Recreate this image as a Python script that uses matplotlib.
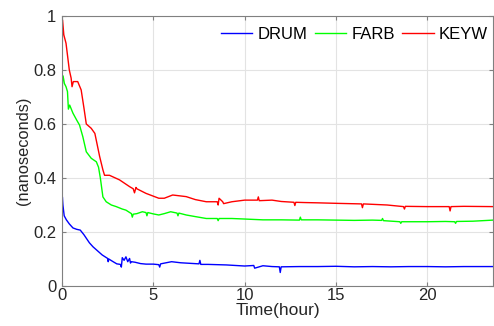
import matplotlib
matplotlib.use("Agg")
import matplotlib.pyplot as plt

plt.rcParams['font.family'] = ['Liberation Sans', 'DejaVu Sans']

drum_t = [0.0, 0.02, 0.05, 0.12, 0.24, 0.4, 0.6, 0.8, 1.0, 1.2, 1.35, 1.5, 1.7, 2.0, 2.2, 2.5, 2.53, 2.56, 2.8, 3.0, 3.2, 3.25, 3.3, 3.4, 3.5, 3.6, 3.7, 3.75, 3.8, 4.0, 4.3, 4.6, 5.0, 5.3, 5.35, 5.4, 6.0, 6.5, 7.0, 7.5, 7.55, 7.6, 8.0, 9.0, 10.0, 10.5, 10.55, 11.0, 11.5, 11.9, 11.95, 12.0, 13.0, 14.0, 15.0, 16.0, 17.0, 18.0, 19.0, 20.0, 21.0, 22.0, 23.0, 23.6]
drum_v = [0.22, 0.33, 0.30, 0.26, 0.245, 0.23, 0.215, 0.21, 0.207, 0.19, 0.175, 0.16, 0.145, 0.127, 0.115, 0.102, 0.09, 0.10, 0.09, 0.082, 0.08, 0.07, 0.105, 0.095, 0.108, 0.09, 0.102, 0.085, 0.09, 0.088, 0.083, 0.081, 0.081, 0.079, 0.07, 0.082, 0.09, 0.086, 0.084, 0.082, 0.095, 0.08, 0.08, 0.078, 0.074, 0.076, 0.066, 0.075, 0.072, 0.071, 0.05, 0.071, 0.072, 0.072, 0.073, 0.071, 0.072, 0.071, 0.072, 0.072, 0.071, 0.072, 0.072, 0.072]

farb_t = [0.0, 0.03, 0.08, 0.13, 0.22, 0.3, 0.35, 0.42, 0.6, 0.8, 0.96, 1.14, 1.33, 1.6, 1.88, 2.0, 2.1, 2.24, 2.42, 2.7, 2.97, 3.3, 3.5, 3.8, 3.85, 3.9, 4.1, 4.4, 4.6, 4.65, 4.7, 5.0, 5.3, 5.6, 5.95, 6.3, 6.35, 6.4, 6.8, 7.3, 7.9, 8.5, 8.55, 8.6, 9.3, 10.0, 11.0, 12.0, 13.0, 13.05, 13.1, 14.0, 15.0, 16.0, 17.0, 17.5, 17.55, 17.6, 18.5, 18.55, 18.6, 19.0, 20.0, 21.0, 21.5, 21.55, 21.6, 22.5, 23.6]
farb_v = [0.62, 0.78, 0.77, 0.75, 0.738, 0.72, 0.655, 0.67, 0.64, 0.615, 0.596, 0.553, 0.497, 0.473, 0.46, 0.44, 0.40, 0.33, 0.312, 0.30, 0.294, 0.285, 0.281, 0.268, 0.255, 0.266, 0.268, 0.275, 0.272, 0.26, 0.272, 0.267, 0.263, 0.268, 0.275, 0.27, 0.26, 0.27, 0.263, 0.257, 0.25, 0.25, 0.242, 0.25, 0.25, 0.248, 0.245, 0.245, 0.244, 0.255, 0.245, 0.245, 0.244, 0.243, 0.244, 0.243, 0.25, 0.242, 0.238, 0.232, 0.238, 0.238, 0.238, 0.239, 0.238, 0.232, 0.239, 0.24, 0.244]

keyw_t = [0.0, 0.03, 0.1, 0.22, 0.4, 0.5, 0.55, 0.62, 0.86, 1.05, 1.2, 1.33, 1.6, 1.8, 2.06, 2.24, 2.33, 2.6, 3.15, 3.7, 3.9, 3.97, 4.05, 4.1, 4.6, 5.3, 5.6, 6.06, 6.8, 7.3, 7.9, 8.5, 8.55, 8.6, 8.8, 8.85, 9.3, 10.0, 10.7, 10.75, 10.8, 11.5, 12.0, 12.7, 12.75, 12.8, 13.3, 14.0, 15.1, 16.4, 16.45, 16.5, 17.8, 18.7, 18.75, 18.8, 20.0, 21.2, 21.25, 21.3, 22.0, 23.6]
keyw_v = [0.78, 0.985, 0.93, 0.899, 0.80, 0.77, 0.738, 0.757, 0.757, 0.726, 0.66, 0.60, 0.584, 0.565, 0.48, 0.43, 0.41, 0.41, 0.393, 0.368, 0.36, 0.345, 0.365, 0.36, 0.343, 0.325, 0.325, 0.337, 0.331, 0.32, 0.312, 0.312, 0.30, 0.325, 0.312, 0.305, 0.312, 0.318, 0.318, 0.33, 0.316, 0.318, 0.313, 0.31, 0.298, 0.31, 0.309, 0.308, 0.306, 0.304, 0.29, 0.304, 0.3, 0.294, 0.285, 0.295, 0.294, 0.294, 0.278, 0.294, 0.295, 0.294]

fig = plt.figure(figsize=(4.94, 3.26), dpi=100)
ax = fig.add_axes([0.1255, 0.1227, 0.8725, 0.8283])
ax.plot(drum_t, drum_v, color='#0000ff', lw=1.0, label='DRUM')
ax.plot(farb_t, farb_v, color='#00ff00', lw=1.0, label='FARB')
ax.plot(keyw_t, keyw_v, color='#ff0000', lw=1.0, label='KEYW')

ax.set_xlim(0, 23.6)
ax.set_ylim(0, 1)
ax.set_xticks([0, 5, 10, 15, 20])
ax.set_yticks([0, 0.2, 0.4, 0.6, 0.8, 1])
ax.set_yticklabels(['0', '0.2', '0.4', '0.6', '0.8', '1'])
ax.grid(True, color='#e3e3e3', lw=0.8)
ax.set_axisbelow(True)
for s in ax.spines.values():
    s.set_color('#808080')
    s.set_linewidth(0.8)
ax.tick_params(direction='in', length=3, colors='#808080', labelcolor='#262626', labelsize=12, top=True, right=True)
ax.tick_params(axis='x', pad=1.5)
ax.tick_params(axis='y', pad=4)
ax.set_xlabel('Time(hour)', fontsize=12.5, color='#262626', labelpad=0)
ax.set_ylabel('(nanoseconds)', fontsize=11.8, color='#262626', labelpad=2)
leg = ax.legend(loc='upper right', ncol=3, frameon=False, fontsize=12, handlelength=1.9,
                handletextpad=0.3, columnspacing=0.45, borderaxespad=0.3, bbox_to_anchor=(1.016, 1.004))
fig.savefig('out.png', dpi=100)
